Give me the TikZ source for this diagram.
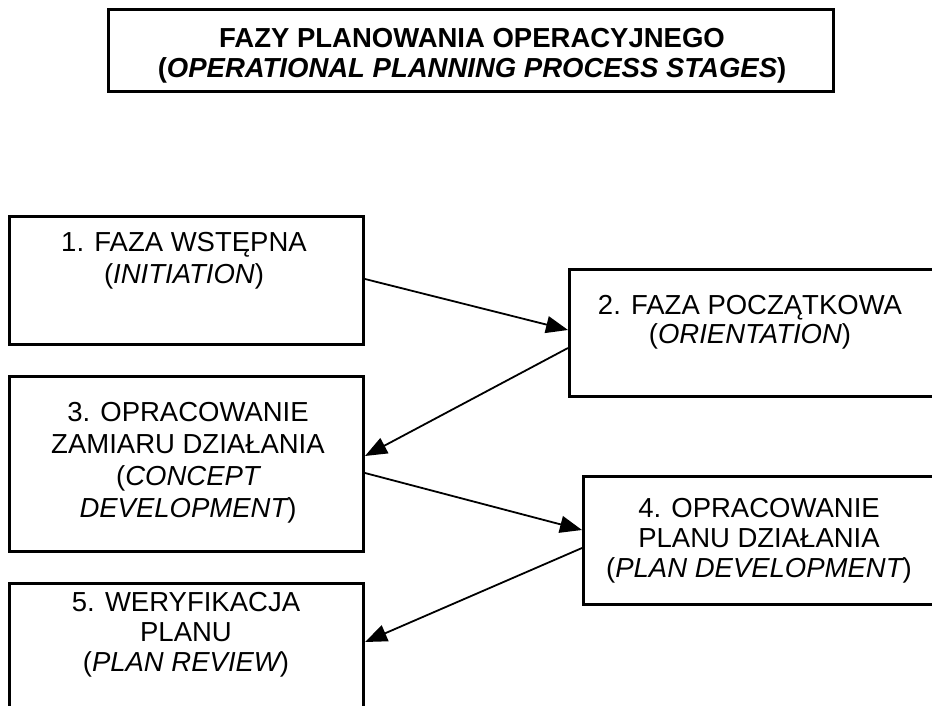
\documentclass[tikz,border=0pt]{standalone}
\usepackage{fontspec}
\setmainfont{Liberation Sans}
\usetikzlibrary{arrows.meta,calc}
\begin{document}
\begin{tikzpicture}[x=1pt,y=-1pt,
  stagebox/.style={draw=black, line width=3pt, rectangle, inner sep=0pt, anchor=north west, fill=none},
  stagetext/.style={anchor=north, inner sep=0pt, align=center, text=black},
  flow/.style={line width=1.8pt, -{Triangle[length=22pt,width=17pt]}}]
\useasboundingbox (0,0) rectangle (932,706);
\fill[white] (0,0) rectangle (932,706);
\clip (0,0) rectangle (932,706);
% title
\node[draw=black, line width=3pt, minimum width=725pt, minimum height=82pt, inner sep=0pt] (title) at (470.5,51) {};
\node[stagetext, font=\fontsize{27.5pt}{30pt}\selectfont\bfseries] (titletext) at (472,28)
  {FAZY PLANOWANIA OPERACYJNEGO\\({\itshape OPERATIONAL PLANNING PROCESS STAGES})};
% boxes
\node[stagebox, minimum width=354pt, minimum height=128pt] (b1) at (8,215) {};
\node[stagebox, minimum width=380pt, minimum height=127pt] (b2) at (568,268) {};
\node[stagebox, minimum width=354pt, minimum height=175pt] (b3) at (8,375) {};
\node[stagebox, minimum width=370pt, minimum height=128pt] (b4) at (582,475) {};
\node[stagebox, minimum width=354pt, minimum height=160pt] (b5) at (8,582) {};
% texts
\node[stagetext, font=\fontsize{27.5pt}{32pt}\selectfont] (t1) at (184,232)
  {1. FAZA WSTĘPNA\\({\itshape INITIATION})};
\node[stagetext, font=\fontsize{27.5pt}{29pt}\selectfont] (t2) at (750,295)
  {2. FAZA POCZĄTKOWA\\({\itshape ORIENTATION})};
\node[stagetext, font=\fontsize{27.5pt}{32pt}\selectfont] (t3) at (188,402)
  {3. OPRACOWANIE\\ZAMIARU DZIAŁANIA\\({\itshape CONCEPT}\\{\itshape DEVELOPMENT})};
\node[stagetext, font=\fontsize{27.5pt}{30pt}\selectfont] (t4) at (759,498)
  {4. OPRACOWANIE\\PLANU DZIAŁANIA\\({\itshape PLAN DEVELOPMENT})};
\node[stagetext, font=\fontsize{27.5pt}{30pt}\selectfont] (t5) at (186,592)
  {5. WERYFIKACJA\\PLANU\\({\itshape PLAN REVIEW})};
% connector endpoints
\coordinate (a1s) at ($(b1.north east)+(0,64)$);
\coordinate (a1e) at ($(b2.north west)+(0,62)$);
\coordinate (a2s) at ($(b2.north west)+(0,80)$);
\coordinate (a2e) at ($(b3.north east)+(0,81)$);
\coordinate (a3s) at ($(b3.north east)+(0,98)$);
\coordinate (a3e) at ($(b4.north west)+(0,55)$);
\coordinate (a4s) at ($(b4.north west)+(0,73)$);
\coordinate (a4e) at ($(b5.north east)+(0,60)$);
\draw[flow] (a1s) -- (a1e);
\draw[flow] (a2s) -- (a2e);
\draw[flow] (a3s) -- (a3e);
\draw[flow] (a4s) -- (a4e);
\end{tikzpicture}
\end{document}
